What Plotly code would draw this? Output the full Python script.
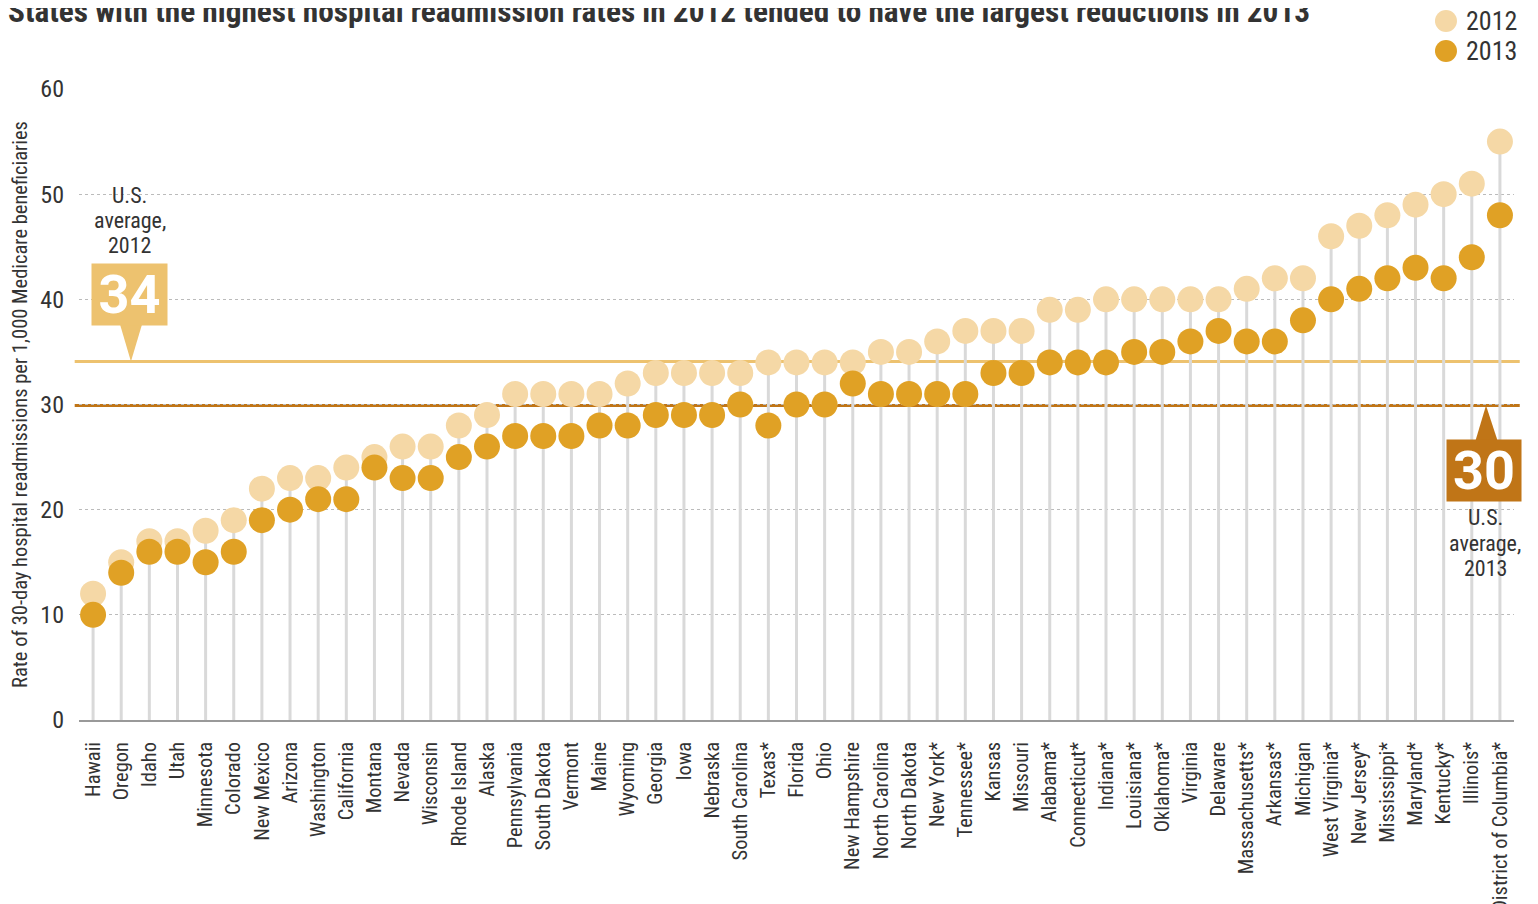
import plotly.graph_objects as go

states = ["Hawaii", "Oregon", "Idaho", "Utah", "Minnesota", "Colorado", "New Mexico", "Arizona",
          "Washington", "California", "Montana", "Nevada", "Wisconsin", "Rhode Island", "Alaska",
          "Pennsylvania", "South Dakota", "Vermont", "Maine", "Wyoming", "Georgia", "Iowa", "Nebraska",
          "South Carolina", "Texas*", "Florida", "Ohio", "New Hampshire", "North Carolina",
          "North Dakota", "New York*", "Tennessee*", "Kansas", "Missouri", "Alabama*", "Connecticut*",
          "Indiana*", "Louisiana*", "Oklahoma*", "Virginia", "Delaware", "Massachusetts*", "Arkansas*",
          "Michigan", "West Virginia*", "New Jersey*", "Mississippi*", "Maryland*", "Kentucky*",
          "Illinois*", "District of Columbia*"]
rate_2012 = [12, 15, 17, 17, 18, 19, 22, 23, 23, 24, 25, 26, 26, 28, 29, 31, 31, 31, 31, 32, 33, 33, 33,
             33, 34, 34, 34, 34, 35, 35, 36, 37, 37, 37, 39, 39, 40, 40, 40, 40, 40, 41, 42, 42, 46, 47,
             48, 49, 50, 51, 55]
rate_2013 = [10, 14, 16, 16, 15, 16, 19, 20, 21, 21, 24, 23, 23, 25, 26, 27, 27, 27, 28, 28, 29, 29, 29,
             30, 28, 30, 30, 32, 31, 31, 31, 31, 33, 33, 34, 34, 34, 35, 35, 36, 37, 36, 36, 38, 40, 41,
             42, 43, 42, 44, 48]
avg_2012 = 34.1
avg_2013 = 29.9
y_ticks = [0, 10, 20, 30, 40, 50, 60]
years = ["2012", "2013"]

C12 = "#F5D8A6"
C13 = "#E0A125"
AVG12 = "#EDC26F"
AVG13 = "#C07517"
TXT = "#333333"
FONT = "Roboto Condensed, Liberation Sans Narrow, Roboto, sans-serif"

fig = go.Figure()

# stems
sx, sy = [], []
for s, a, b in zip(states, rate_2012, rate_2013):
    sx += [s, s, None]
    sy += [0, max(a, b), None]
fig.add_trace(go.Scatter(x=sx, y=sy, mode="lines", line=dict(color="#d9d9d9", width=3),
                         showlegend=False, hoverinfo="skip"))

fig.add_trace(go.Scatter(x=states, y=rate_2012, mode="markers", name=years[0], showlegend=False,
                         marker=dict(color=C12, size=26, line=dict(width=0))))
fig.add_trace(go.Scatter(x=states, y=rate_2013, mode="markers", name=years[1], showlegend=False,
                         marker=dict(color=C13, size=26, line=dict(width=0))))

# average lines
fig.add_shape(type="line", xref="paper", yref="y", x0=-0.003, x1=1.004, y0=avg_2012, y1=avg_2012,
              line=dict(color=AVG12, width=3), layer="below")
fig.add_shape(type="line", xref="paper", yref="y", x0=-0.003, x1=1.004, y0=avg_2013, y1=avg_2013,
              line=dict(color=AVG13, width=3), layer="below")

# 2012 callout
fig.add_shape(type="path", xref="paper", yref="y",
              path=f"M 0.0286 37.6 L 0.0439 37.6 L 0.0362 {avg_2012} Z",
              fillcolor=AVG12, line=dict(width=0))
fig.add_annotation(xref="paper", yref="y", x=0.0352, y=40.46, xanchor="center", yanchor="middle",
                   text=f"<b>{round(avg_2012)}</b>",
                   showarrow=False, bgcolor=AVG12, width=75, height=61, borderpad=0,
                   font=dict(family="Roboto", size=54, color="white"))
for txt, yy in zip(["U.S.", "average,", "2012"], [49.92, 47.54, 45.16]):
    fig.add_annotation(xref="paper", yref="y", x=0.0355, y=yy, xanchor="center", yanchor="middle",
                       text=txt, showarrow=False, font=dict(family=FONT, size=22, color=TXT))

# 2013 callout
fig.add_shape(type="path", xref="paper", yref="y",
              path=f"M 0.9733 26.62 L 0.9884 26.62 L 0.9805 {avg_2013} Z",
              fillcolor=AVG13, line=dict(width=0))
fig.add_annotation(xref="paper", yref="y", x=0.9791, y=23.72, xanchor="center", yanchor="middle",
                   text=f"<b>{round(avg_2013)}</b>",
                   showarrow=False, bgcolor=AVG13, width=74, height=61, borderpad=0,
                   font=dict(family="Roboto", size=54, color="white"))
for txt, yy in zip(["U.S.", "average,", "2013"], [19.21, 16.83, 14.45]):
    fig.add_annotation(xref="paper", yref="y", x=0.9798, y=yy, xanchor="center", yanchor="middle",
                       text=txt, showarrow=False, font=dict(family=FONT, size=22, color=TXT))

# manual legend
for yr, col, yp in zip(years, [C12, C13], [1.1078, 1.0602]):
    fig.add_shape(type="circle", xref="paper", yref="paper", xsizemode="pixel", ysizemode="pixel",
                  xanchor=0.9526, yanchor=yp, x0=-11, x1=11, y0=-11, y1=11,
                  fillcolor=col, line=dict(width=0))
    fig.add_annotation(xref="paper", yref="paper", x=0.9652, y=yp, xanchor="left", yanchor="middle",
                       text=yr, showarrow=False, font=dict(family=FONT, size=26, color=TXT))

fig.update_layout(
    width=1530, height=896,
    margin=dict(l=71, r=24, t=81, b=184, autoexpand=False),
    paper_bgcolor="white", plot_bgcolor="white",
    font=dict(family=FONT, color=TXT),
    title=dict(text="<b>States with the highest hospital readmission rates in 2012 tended to have the largest reductions in 2013</b>",
               x=0.0, xanchor="left", y=0.997, yanchor="middle",
               font=dict(family=FONT, size=31.3, color=TXT)),
    showlegend=False,
)
fig.update_xaxes(range=[-0.5, 50.5], showgrid=False, zeroline=False, showline=True,
                 linecolor="#999999", linewidth=1.5, automargin=False,
                 tickangle=-90, tickfont=dict(size=20.5, color=TXT), ticks="", ticklabelstandoff=12,
                 categoryorder="array", categoryarray=states)
fig.update_yaxes(range=[0, 60], tickvals=y_ticks, showgrid=True, gridcolor="#bbbbbb", griddash="dot",
                 gridwidth=1, zeroline=False, showline=False, tickfont=dict(size=24, color=TXT),
                 ticklabelstandoff=14, automargin=False,
                 title=dict(text="Rate of 30-day hospital readmissions per 1,000 Medicare beneficiaries",
                            font=dict(size=20.5, color=TXT), standoff=10))

fig.write_html("out.html")
